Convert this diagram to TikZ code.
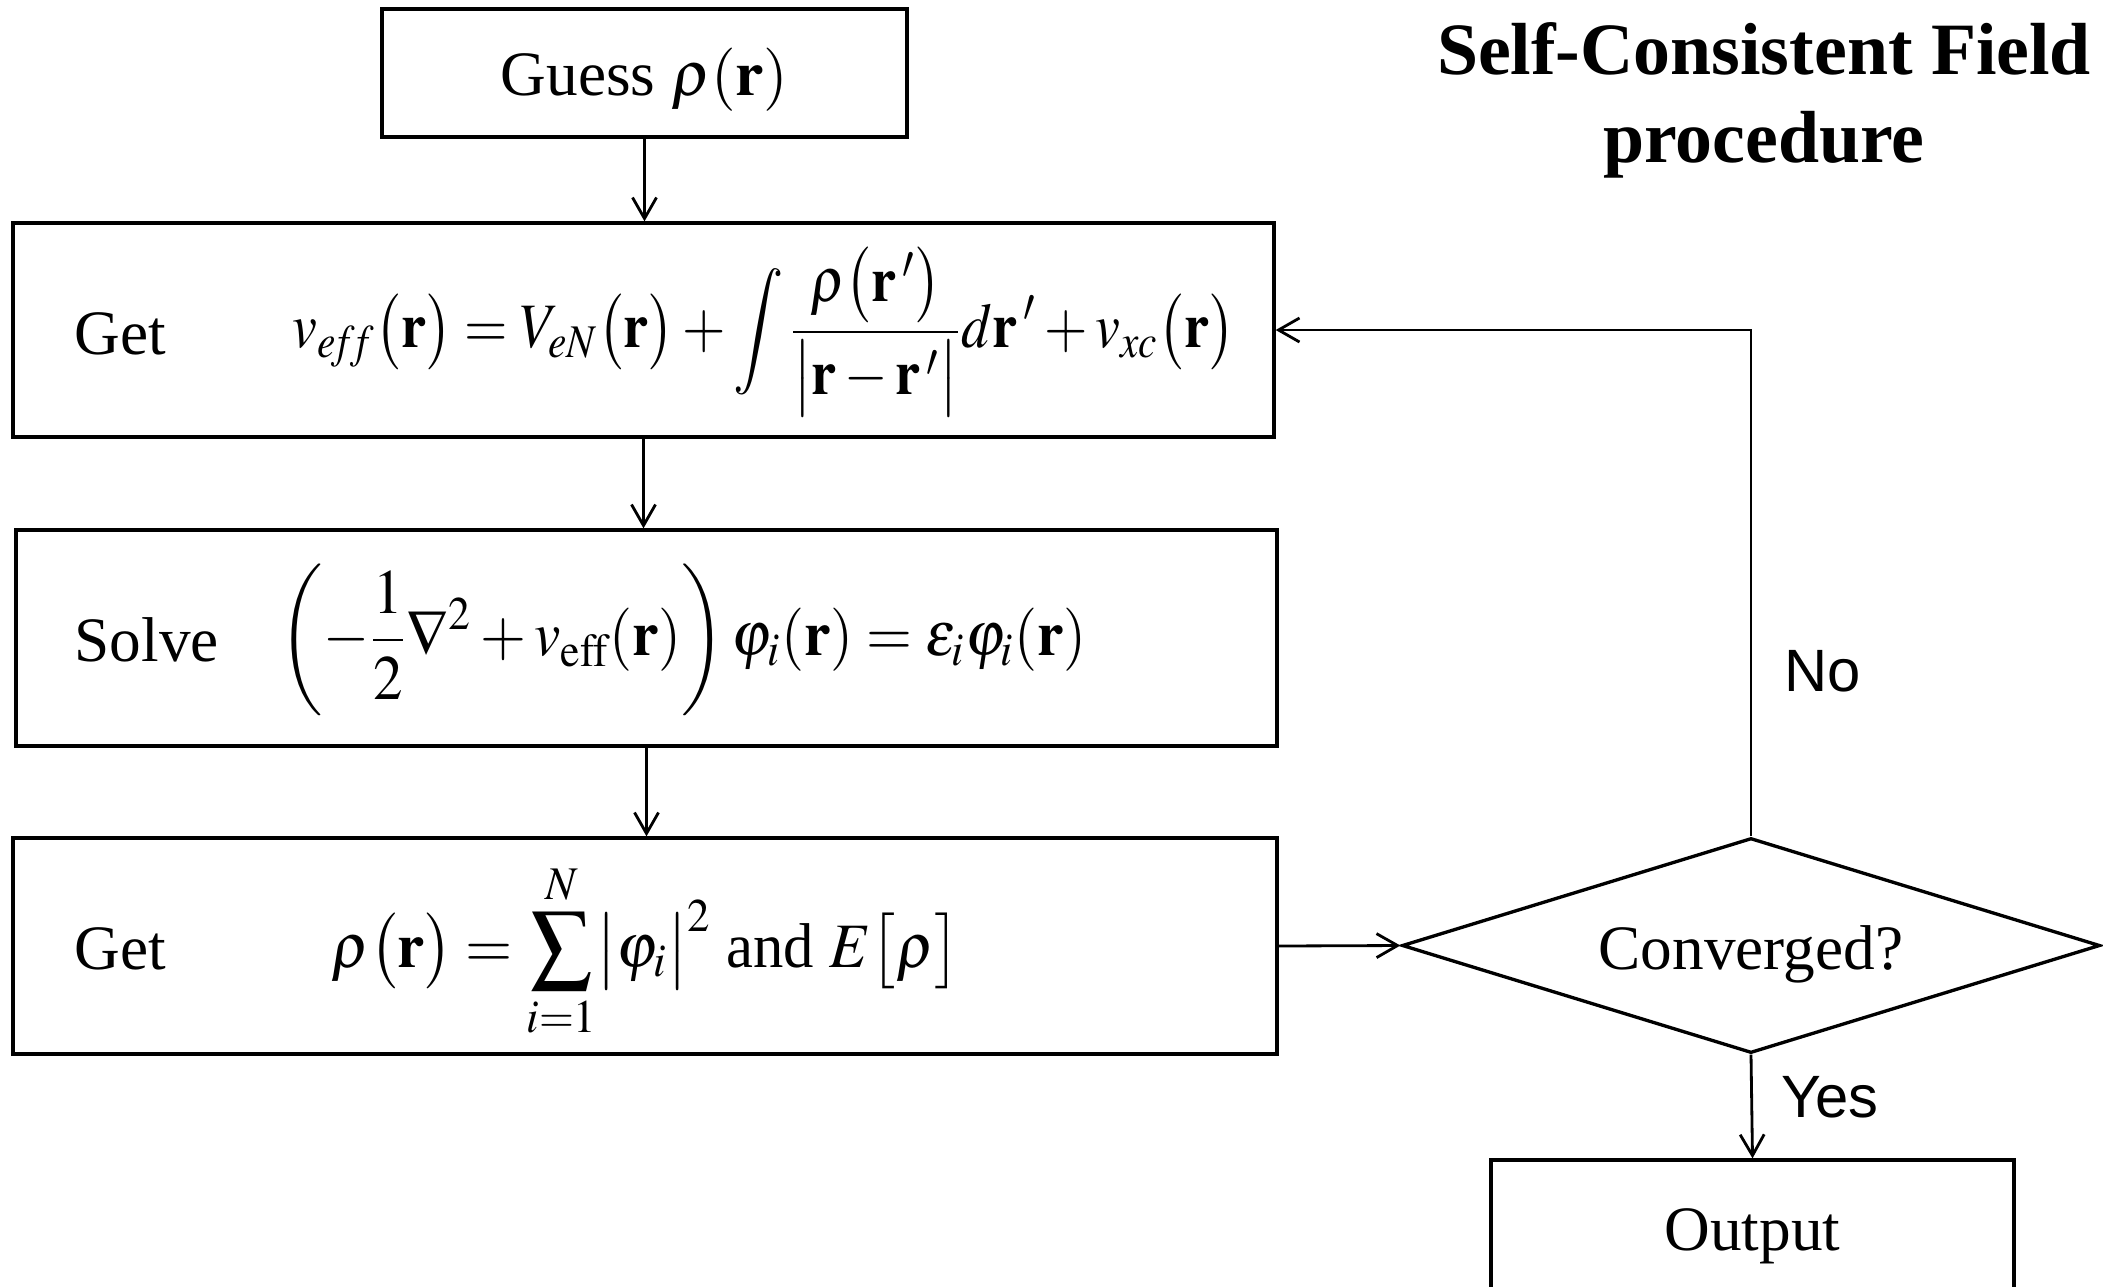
\documentclass[tikz,border=0pt]{standalone}
\usepackage{amsmath}
\usepackage{graphicx}
\usepackage{mathptmx}
\usepackage{fontspec}
\setmainfont{Liberation Serif}
\newfontfamily\arialfont{Liberation Sans}
\usetikzlibrary{shapes.geometric,arrows.meta}
\begin{document}
\begin{tikzpicture}[x=0.1mm,y=-0.1mm,
  box/.style={draw, line width=0.95pt, rectangle, inner sep=0pt},
  txt/.style={inner sep=0pt, font=\fontsize{18}{21}\selectfont},
  eq/.style={inner sep=0pt, anchor=west, font=\fontsize{18}{21}\selectfont},
  conn/.style={line width=0.8pt, -{Straight Barb[length=2.1mm,width=2.4mm]}},
  lab/.style={inner sep=0pt, font=\arialfont\fontsize{17}{20}\selectfont}]
\useasboundingbox (0,0) rectangle (2103,1286);
% title
\node[inner sep=0pt, align=center, font=\bfseries\fontsize{21}{25}\selectfont] (title) at (1764,100) {Self-Consistent Field\\procedure};
% boxes
\node[box, minimum width=52.5mm, minimum height=12.8mm] (guess) at (644.5,73) {};
\node[txt] (guesst) at (644.5,80) {Guess $\rho(\mathbf{r})$};
\node[box, minimum width=126.1mm, minimum height=21.4mm] (get1) at (643.5,330) {};
\node[txt, anchor=west] (get1t) at (74,334) {Get};
\node[eq] (get1e) at (292,332) {\resizebox{94.2mm}{\height}{$\displaystyle v_{e\!f\!f}\bigl(\mathbf{r}\bigr)=V_{eN}\bigl(\mathbf{r}\bigr)+\int\frac{\rho\bigl(\mathbf{r}\,'\bigr)}{\bigl|\mathbf{r}-\mathbf{r}\,'\bigr|}d\mathbf{r}\,'+v_{xc}\bigl(\mathbf{r}\bigr)$}};
\node[box, minimum width=126.1mm, minimum height=21.6mm] (solve) at (646.5,638) {};
\node[txt, anchor=west] (solvet) at (74,640) {Solve};
\node[eq] (solvee) at (279,640) {\resizebox{80.7mm}{\height}{$\displaystyle \left(-\frac{1}{2}\nabla^{2}+v_{\mathrm{eff}}(\mathbf{r})\right)\varphi_{i}(\mathbf{r})=\varepsilon_{i}\varphi_{i}(\mathbf{r})$}};
\node[box, minimum width=126.4mm, minimum height=21.6mm] (get2) at (645,946) {};
\node[txt, anchor=west] (get2t) at (74,949) {Get};
\node[eq] (get2e) at (331,951) {\resizebox{62.8mm}{\height}{$\displaystyle \rho\bigl(\mathbf{r}\bigr)=\sum_{i=1}^{N}\bigl|\varphi_{i}\bigr|^{2}$ and $E\bigl[\rho\bigr]$}};
\node[draw, line width=0.95pt, diamond, aspect=3.25, inner sep=0pt, minimum width=69.8mm, minimum height=21.5mm] (dia) at (1751,945.5) {};
\node[txt] (diat) at (1751,954) {Converged?};
\node[box, minimum width=52.3mm, minimum height=13.8mm] (out) at (1752.5,1229) {};
\node[txt] (outt) at (1752.5,1236) {Output};
% connectors
\draw[conn] (guess.south) -- (guess.south |- get1.north);
\draw[conn] (get1.south) -- (get1.south |- solve.north);
\draw[conn] (solve.south) -- (solve.south |- get2.north);
\draw[conn] (get2.east) -- (dia.west);
\draw[conn] (dia.south) -- (out.north);
\draw[conn] (dia.north) |- (get1.east);
\node[lab] (no) at (1823,671) {No};
\node[lab] (yes) at (1830,1097) {Yes};
\end{tikzpicture}
\end{document}
